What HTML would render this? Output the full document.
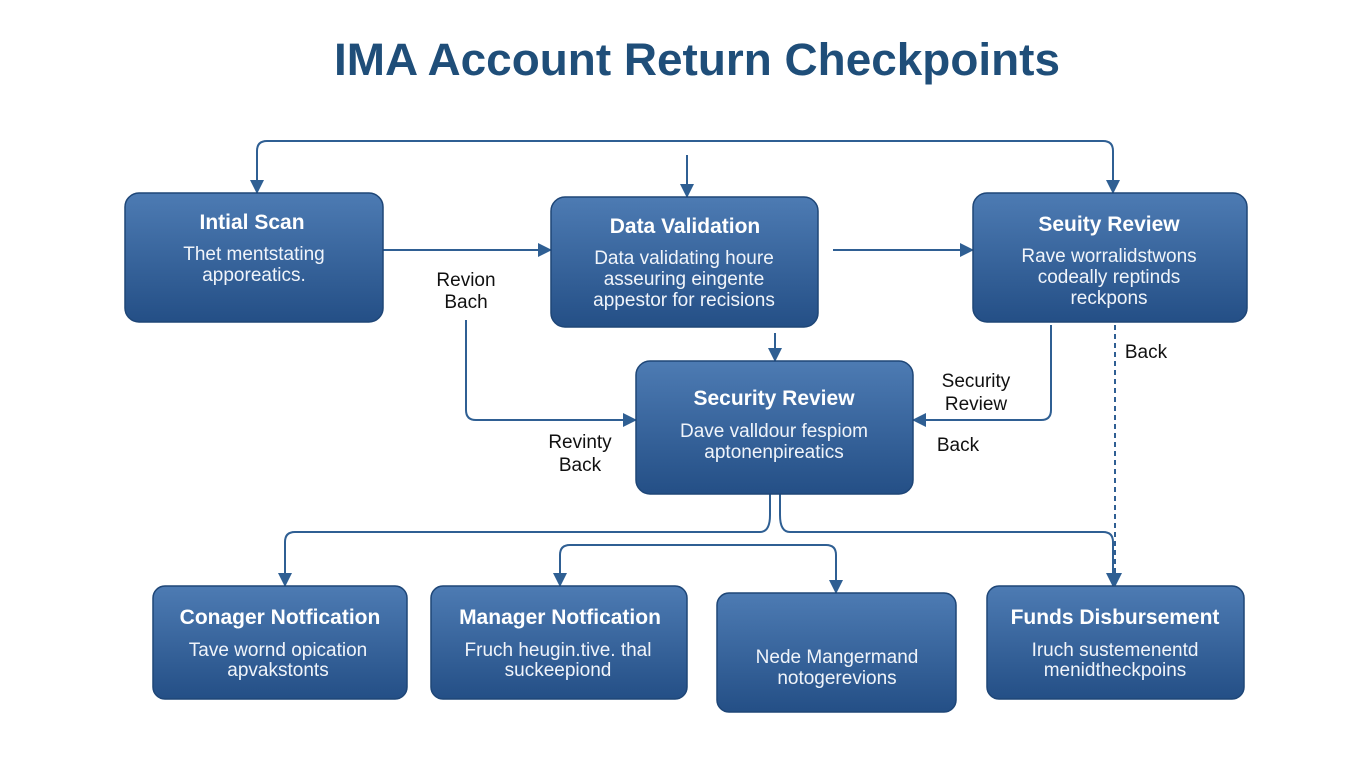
<!DOCTYPE html>
<html><head><meta charset="utf-8"><style>
html,body{margin:0;padding:0;background:#fff;}
svg{display:block;font-family:"Liberation Sans",sans-serif;}
.t{fill:#fff;font-weight:bold;font-size:21px;text-anchor:middle;}
.d{fill:#f0f4fa;font-size:19px;text-anchor:middle;}
.l{fill:#111;font-size:19px;text-anchor:middle;}
.c{fill:none;stroke:#2f5f93;stroke-width:2;}
</style></head><body>
<svg width="1365" height="768" viewBox="0 0 1365 768">
<defs>
<linearGradient id="g" x1="0" y1="0" x2="0" y2="1">
<stop offset="0" stop-color="#4d7bb3"/><stop offset="1" stop-color="#244f86"/></linearGradient>
<marker id="b" markerWidth="14" markerHeight="14" refX="13" refY="7" orient="auto" markerUnits="userSpaceOnUse"><path d="M0,0 L14,7 L0,14 z" fill="#2f5f93"/></marker>
</defs>
<text x="697" y="75" text-anchor="middle" font-size="45" font-weight="bold" fill="#1f4e79" textLength="726" lengthAdjust="spacingAndGlyphs">IMA Account Return Checkpoints</text>

<path class="c" d="M257,193 V151 Q257,141 267,141 H1103 Q1113,141 1113,151 V193" marker-end="url(#b)"/>
<path class="c" d="M257,160 V193" marker-end="url(#b)"/>
<path class="c" d="M687,155 V197" marker-end="url(#b)"/>
<path class="c" d="M383,250 H551" marker-end="url(#b)"/>
<path class="c" d="M833,250 H973" marker-end="url(#b)"/>
<path class="c" d="M775,333 V361" marker-end="url(#b)"/>
<path class="c" d="M466,320 V410 Q466,420 476,420 H636" marker-end="url(#b)"/>
<path class="c" d="M1051,325 V410 Q1051,420 1041,420 H913" marker-end="url(#b)"/>
<path class="c" d="M1115,325 V586" stroke-dasharray="5,4" marker-end="url(#b)"/>
<path class="c" d="M770,494 V515 Q770,532 760,532 H295 Q285,532 285,542 V586" marker-end="url(#b)"/>
<path class="c" d="M780,494 V515 Q780,532 790,532 H1103 Q1113,532 1113,542 V586" marker-end="url(#b)"/>
<path class="c" d="M836,593 V555 Q836,545 826,545 H570 Q560,545 560,555 V586" marker-end="url(#b)"/>
<path class="c" d="M836,560 V593" marker-end="url(#b)"/>

<g stroke="#1e4677" stroke-width="1.5" fill="url(#g)">
<rect x="125" y="193" width="258" height="129" rx="14"/>
<rect x="551" y="197" width="267" height="130" rx="14"/>
<rect x="973" y="193" width="274" height="129" rx="14"/>
<rect x="636" y="361" width="277" height="133" rx="14"/>
<rect x="153" y="586" width="254" height="113" rx="12"/>
<rect x="431" y="586" width="256" height="113" rx="12"/>
<rect x="717" y="593" width="239" height="119" rx="12"/>
<rect x="987" y="586" width="257" height="113" rx="12"/>
</g>

<text class="t" x="252" y="229">Intial Scan</text>
<text class="d" x="254" y="260">Thet mentstating</text>
<text class="d" x="254" y="281">apporeatics.</text>

<text class="t" x="685" y="233">Data Validation</text>
<text class="d" x="684" y="264">Data validating houre</text>
<text class="d" x="684" y="285">asseuring eingente</text>
<text class="d" x="684" y="306">appestor for recisions</text>

<text class="t" x="1109" y="231">Seuity Review</text>
<text class="d" x="1109" y="262">Rave worralidstwons</text>
<text class="d" x="1109" y="283">codeally reptinds</text>
<text class="d" x="1109" y="304">reckpons</text>

<text class="t" x="774" y="405">Security Review</text>
<text class="d" x="774" y="437">Dave valldour fespiom</text>
<text class="d" x="774" y="458">aptonenpireatics</text>

<text class="t" x="280" y="624">Conager Notfication</text>
<text class="d" x="278" y="656">Tave wornd opication</text>
<text class="d" x="278" y="676">apvakstonts</text>

<text class="t" x="560" y="624">Manager Notfication</text>
<text class="d" x="558" y="656">Fruch heugin.tive. thal</text>
<text class="d" x="558" y="676">suckeepiond</text>

<text class="d" x="837" y="663">Nede  Mangermand</text>
<text class="d" x="837" y="684">notogerevions</text>

<text class="t" x="1115" y="624">Funds Disbursement</text>
<text class="d" x="1115" y="656">Iruch sustemenentd</text>
<text class="d" x="1115" y="676">menidtheckpoins</text>

<text class="l" x="466" y="286">Revion</text>
<text class="l" x="466" y="308">Bach</text>
<text class="l" x="580" y="448">Revinty</text>
<text class="l" x="580" y="471">Back</text>
<text class="l" x="976" y="387">Security</text>
<text class="l" x="976" y="410">Review</text>
<text class="l" x="958" y="451">Back</text>
<text class="l" x="1146" y="358">Back</text>
</svg>
</body></html>
